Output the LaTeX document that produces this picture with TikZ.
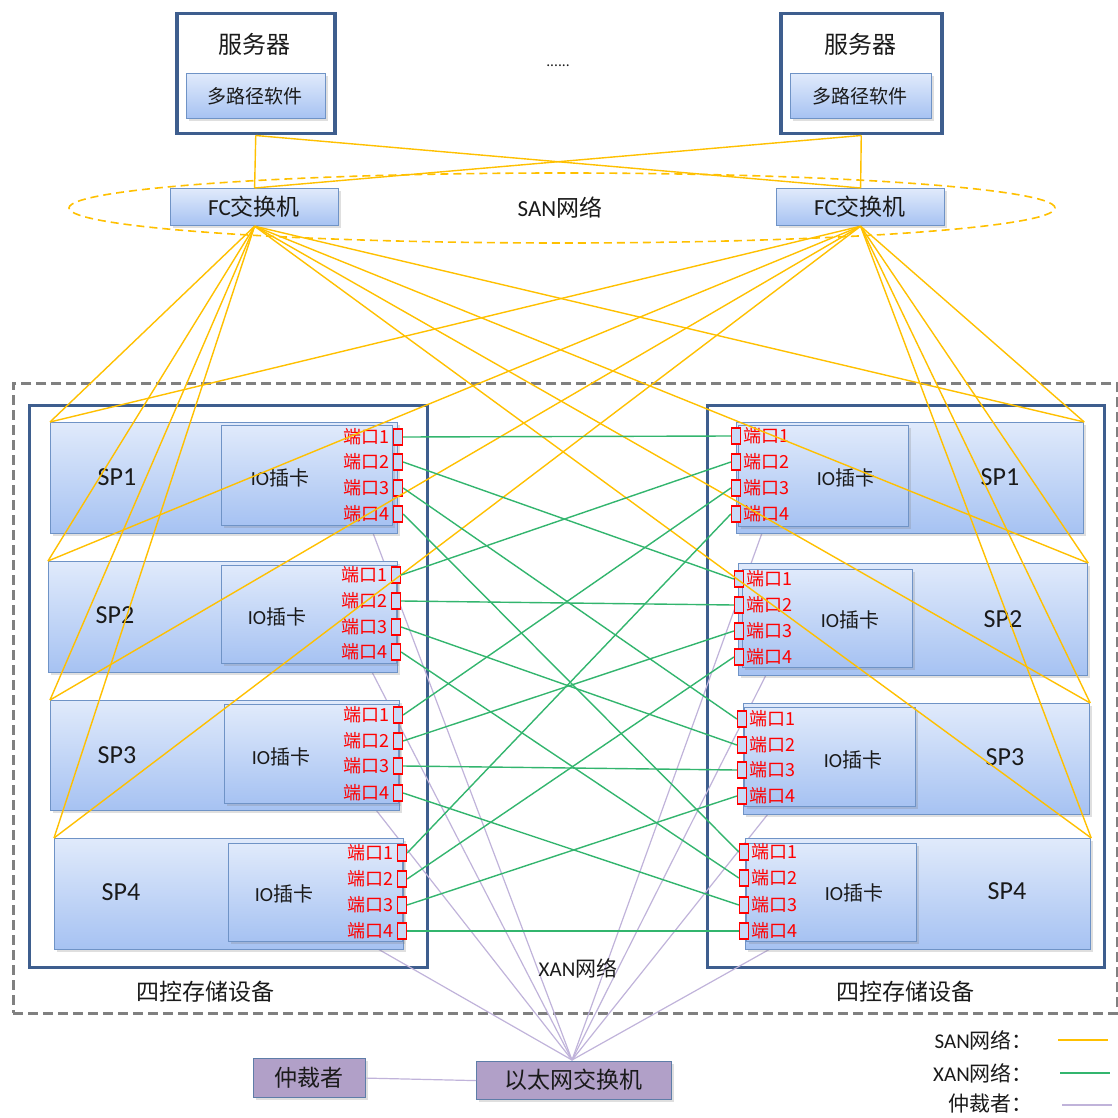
\documentclass[tikz,border=0pt]{standalone}
\usepackage{fontspec}
\setmainfont{Noto Sans CJK SC}
\newfontfamily\lat{Carlito}
\usetikzlibrary{shapes.geometric,shadows}
\newcommand\myfs[1]{\fontsize{#1}{#1}\selectfont}
\definecolor{sanY}{HTML}{FFC000}
\definecolor{xanG}{HTML}{33B56E}
\definecolor{arbP}{HTML}{C0B3DA}
\definecolor{boxTop}{HTML}{E0EAFB}
\definecolor{boxBot}{HTML}{A6C2F2}
\definecolor{boxLine}{HTML}{6F93C6}
\definecolor{darkB}{HTML}{3E5E8E}
\definecolor{grayD}{HTML}{808080}
\definecolor{arbFill}{HTML}{B1A0C8}
\definecolor{txt}{HTML}{1A1A1A}
\tikzset{
  shd/.style={drop shadow={opacity=0.25,shadow xshift=2pt,shadow yshift=-2pt}},
  bluebox/.style={draw=boxLine, line width=1.2pt, top color=boxTop, bottom color=boxBot, inner sep=0pt, anchor=north west, shd},
  server/.style={draw=darkB, line width=3.5pt, fill=white, inner sep=0pt, anchor=north west},
  stor/.style={draw=darkB, line width=3pt, fill=white, inner sep=0pt, anchor=north west},
  port/.style={draw=red, line width=1.3pt, fill=boxTop!60!boxBot, minimum width=9pt, minimum height=16pt, inner sep=0pt},
  plbl/.style={text=red, inner sep=0pt, font=\myfs{18pt}},
  lbl/.style={text=txt, inner sep=0pt},
  san/.style={draw=sanY, line width=1.4pt},
  xan/.style={draw=xanG, line width=1.4pt},
  arb/.style={draw=arbP, line width=1.2pt},
  purplebox/.style={draw=boxLine!85!black, line width=1.2pt, fill=arbFill, inner sep=0pt, anchor=north west, shd}
}
\begin{document}
\begin{tikzpicture}[x=1pt,y=-1pt]
\useasboundingbox (0,0) rectangle (1118,1118);
% SAN ellipse
\node[draw=sanY, line width=1.6pt, dash pattern=on 8pt off 5pt, ellipse, minimum width=986pt, minimum height=70pt, inner sep=0pt] (SANE) at (562,208) {};
\node[lbl, font=\myfs{23pt}] (SANT) at (560,208) {{\lat SAN}网络};
% servers
\node[server, minimum width=158pt, minimum height=120pt] (S1) at (175,12) {};
\node[server, minimum width=161pt, minimum height=120pt] (S2) at (779,12) {};
\node[lbl, font=\myfs{24pt}] (S1t) at (254,44) {服务器};
\node[lbl, font=\myfs{24pt}] (S2t) at (860,44) {服务器};
\node[bluebox, minimum width=139pt, minimum height=45pt] (M1) at (186,73) {};
\node[bluebox, minimum width=141pt, minimum height=45pt] (M2) at (790,73) {};
\node[lbl, font=\myfs{19pt}] (M1t) at (255,96) {多路径软件};
\node[lbl, font=\myfs{19pt}] (M2t) at (860,96) {多路径软件};
\node[lbl, font=\myfs{14pt}] (dots) at (558,66) {......};
% FC switches
\node[bluebox, minimum width=168pt, minimum height=37pt] (F1) at (170,188) {};
\node[bluebox, minimum width=168pt, minimum height=37pt] (F2) at (776,188) {};
\node[lbl, font=\myfs{23pt}] (F1t) at (254,207) {{\lat FC}交换机};
\node[lbl, font=\myfs{23pt}] (F2t) at (860,207) {{\lat FC}交换机};
\draw[san] (S1.south) -- (F1.north);
\draw[san] (S1.south) -- (F2.north);
\draw[san] (S2.south) -- (F1.north);
\draw[san] (S2.south) -- (F2.north);
% outer dashed frame and storages
\node[draw=grayD, line width=2.6pt, dash pattern=on 10pt off 5pt, minimum width=1104pt, minimum height=630pt, inner sep=0pt, anchor=north west] (OUT) at (12,382) {};
\node[stor, minimum width=398pt, minimum height=562pt] (SL) at (28,404) {};
\node[stor, minimum width=397pt, minimum height=562pt] (SR) at (706,404) {};
\node[lbl, font=\myfs{23pt}] (SLt) at (205,992) {四控存储设备};
\node[lbl, font=\myfs{23pt}] (SRt) at (905,992) {四控存储设备};
% arbiter and ethernet switch
\node[purplebox, minimum width=112pt, minimum height=39pt] (A) at (253,1058) {};
\node[lbl, font=\myfs{23pt}] (At) at (309,1078) {仲裁者};
\node[purplebox, minimum width=195pt, minimum height=38pt] (E) at (476,1061) {};
\node[lbl, font=\myfs{23pt}] (Et) at (573,1080) {以太网交换机};
\coordinate (Etop) at (572,1060);
\draw[arb] (A.east) -- (E.west);
% purple lines (under SP boxes)
\coordinate (L1b) at (373,533);
\coordinate (L2b) at (372,672);
\coordinate (L3b) at (376,810);
\coordinate (L4b) at (378,949);
\coordinate (R1b) at (762,533);
\coordinate (R2b) at (766,675);
\coordinate (R3b) at (768,814);
\coordinate (R4b) at (770,949);
\foreach \k in {1,2,3,4} {
  \draw[arb] (L\k b) -- (Etop);
  \draw[arb] (R\k b) -- (Etop);
}
\node[lbl, font=\myfs{21pt}] (XT) at (578,968) {{\lat XAN}网络};
% left SPs
\node[bluebox, minimum width=347pt, minimum height=111pt] (L1) at (50,422) {};
\node[bluebox, minimum width=349pt, minimum height=111pt] (L2) at (48,561) {};
\node[bluebox, minimum width=349pt, minimum height=110pt] (L3) at (50,700) {};
\node[bluebox, minimum width=349pt, minimum height=111pt] (L4) at (54,838) {};
\node[bluebox, minimum width=171pt, minimum height=100pt] (LI1) at (221,425) {};
\node[bluebox, minimum width=175pt, minimum height=98pt] (LI2) at (221,565) {};
\node[bluebox, minimum width=174pt, minimum height=99pt] (LI3) at (224,704) {};
\node[bluebox, minimum width=174pt, minimum height=98pt] (LI4) at (228,843) {};
\foreach \k/\x/\y/\ix/\iy in {1/117/477/280/478, 2/115/615/277/617, 3/117/755/281/757, 4/121/892/284/894} {
  \node[lbl, font={\lat\myfs{26pt}}] (LS\k) at (\x,\y) {SP\k};
  \node[lbl, font=\myfs{20pt}] (LIt\k) at (\ix,\iy) {{\lat IO}插卡};
}
% right SPs
\node[bluebox, minimum width=347pt, minimum height=111pt] (R1) at (736,422) {};
\node[bluebox, minimum width=349pt, minimum height=112pt] (R2) at (738,563) {};
\node[bluebox, minimum width=346pt, minimum height=111pt] (R3) at (743,703) {};
\node[bluebox, minimum width=345pt, minimum height=111pt] (R4) at (745,838) {};
\node[bluebox, minimum width=170pt, minimum height=101pt] (RI1) at (738,425) {};
\node[bluebox, minimum width=170pt, minimum height=98pt] (RI2) at (742,569) {};
\node[bluebox, minimum width=171pt, minimum height=99pt] (RI3) at (744,707) {};
\node[bluebox, minimum width=170pt, minimum height=98pt] (RI4) at (746,843) {};
\foreach \k/\x/\y/\ix/\iy in {1/1000/477/846/478, 2/1003/619/850/620, 3/1005/757/853/760, 4/1007/891/854/893} {
  \node[lbl, font={\lat\myfs{26pt}}] (RS\k) at (\x,\y) {SP\k};
  \node[lbl, font=\myfs{20pt}] (RIt\k) at (\ix,\iy) {{\lat IO}插卡};
}
% ports
\foreach \k/\xc/\ya/\yb/\yc/\yd in {1/398/437/462/488/514, 2/396/575/601/627/652, 3/398/715/741/766/793, 4/402/853/879/905/931} {
  \foreach \j/\yy in {1/\ya,2/\yb,3/\yc,4/\yd} {
    \node[port] (L\k-\j) at (\xc,\yy) {};
    \node[plbl, anchor=east] (LT\k-\j) at (\xc-8,\yy) {端口\j};
  }
}
\foreach \k/\xc/\ya/\yb/\yc/\yd in {1/736/436/462/488/514, 2/739/579/605/631/657, 3/742/719/745/770/796, 4/744/852/878/905/931} {
  \foreach \j/\yy in {1/\ya,2/\yb,3/\yc,4/\yd} {
    \node[port] (R\k-\j) at (\xc,\yy) {};
    \node[plbl, anchor=west] (RT\k-\j) at (\xc+7,\yy) {端口\j};
  }
}
% SAN lines from FC switches to SP corners
\foreach \k in {1,2,3,4} {
  \draw[san] (F1.south) -- (L\k.north west);
  \draw[san] (F2.south) -- (L\k.north west);
  \draw[san] (F1.south) -- (R\k.north east);
  \draw[san] (F2.south) -- (R\k.north east);
}
% XAN lines
\foreach \k in {1,2,3,4} {
  \foreach \j in {1,2,3,4} {
    \draw[xan] (L\k-\j.east) -- (R\j-\k.west);
  }
}
% legend
\node[lbl, font=\myfs{21pt}, anchor=east] (G1) at (1033,1040) {{\lat SAN}网络：};
\node[lbl, font=\myfs{21pt}, anchor=east] (G2) at (1033,1073) {{\lat XAN}网络：};
\node[lbl, font=\myfs{21pt}, anchor=east] (G3) at (1033,1104) {仲裁者：};
\coordinate (G1a) at (1058,1040); \coordinate (G1b) at (1108,1040);
\coordinate (G2a) at (1060,1073); \coordinate (G2b) at (1110,1073);
\coordinate (G3a) at (1062,1105); \coordinate (G3b) at (1112,1105);
\draw[san, line width=1.8pt] (G1a) -- (G1b);
\draw[xan, line width=1.8pt] (G2a) -- (G2b);
\draw[arb, line width=1.8pt] (G3a) -- (G3b);
\end{tikzpicture}
\end{document}
